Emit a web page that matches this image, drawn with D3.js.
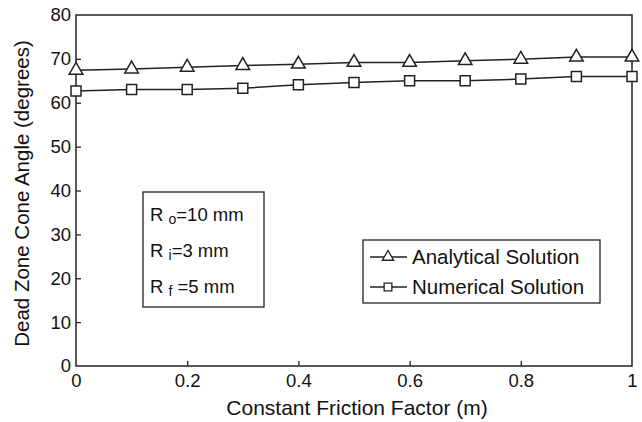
<!DOCTYPE html>
<html><head><meta charset="utf-8">
<script src="https://cdn.jsdelivr.net/npm/d3@7"></script>
<style>body{margin:0;background:#fff}svg{display:block;font-family:"Liberation Sans",Arial,sans-serif}</style>
</head><body><svg id="c" width="642" height="422"></svg>
<script>
const xValues = [0, 0.1, 0.2, 0.3, 0.4, 0.5, 0.6, 0.7, 0.8, 0.9, 1.0];
const analytical = [67.4, 67.7, 68.1, 68.5, 68.8, 69.2, 69.2, 69.6, 69.9, 70.4, 70.4];
const numerical = [62.7, 63.0, 63.0, 63.3, 64.1, 64.6, 65.0, 65.0, 65.4, 66.0, 66.0];
const xTicks = [0, 0.2, 0.4, 0.6, 0.8, 1];
const yTicks = [0, 10, 20, 30, 40, 50, 60, 70, 80];
const seriesNames = ["Analytical Solution", "Numerical Solution"];

const svg = d3.select("#c");
const L = 76, R = 632, T = 15, B = 366;
const x = d3.scaleLinear().domain([0, 1]).range([L, R]);
const y = d3.scaleLinear().domain([0, 80]).range([B, T]);
const col = "#222";

// axes
const xAxis = d3.axisBottom(x).tickValues(xTicks).tickFormat(d3.format("")).tickSizeInner(-5).tickSizeOuter(0).tickPadding(8);
const gx = svg.append("g").attr("transform", `translate(0,${B})`).call(xAxis);
const yAxis = d3.axisLeft(y).tickValues(yTicks).tickSizeInner(-5).tickSizeOuter(0).tickPadding(5);
const gy = svg.append("g").attr("transform", `translate(${L},0)`).call(yAxis);
[gx, gy].forEach(g => {
  g.select(".domain").remove();
  g.selectAll("line").attr("stroke", col).attr("stroke-width", 1.3);
  g.selectAll("text").attr("fill", "#111").style("font-size", "18.5px").style("font-family", "Liberation Sans, Arial, sans-serif");
});
gy.selectAll(".tick").filter(d => d === 0 || d === 80).select("line").remove();
gx.selectAll(".tick").filter(d => d === 0 || d === 1).select("line").remove();

svg.append("rect").attr("x", L).attr("y", T).attr("width", R - L).attr("height", B - T)
  .attr("fill", "none").attr("stroke", col).attr("stroke-width", 1.5);

// axis titles
svg.append("text").attr("x", (L + R) / 2 + 3).attr("y", 415).attr("text-anchor", "middle")
  .style("font-size", "21px").attr("fill", "#111").text("Constant Friction Factor (m)");
svg.append("text").attr("transform", `translate(29,${(T + B) / 2 + 3}) rotate(-90)`).attr("text-anchor", "middle")
  .style("font-size", "20.5px").attr("fill", "#111").text("Dead Zone Cone Angle (degrees)");

// series
const line = d3.line().x((d, i) => x(xValues[i])).y(d => y(d));
const tri = d3.symbol().type(d3.symbolTriangle).size(80);
const sq = d3.symbol().type(d3.symbolSquare).size(100);
[[analytical, tri], [numerical, sq]].forEach(([data, sym]) => {
  svg.append("path").datum(data).attr("d", line).attr("fill", "none").attr("stroke", col).attr("stroke-width", 1.5);
  svg.selectAll(null).data(data).enter().append("path")
    .attr("d", sym).attr("transform", (d, i) => `translate(${x(xValues[i])},${y(d)})`)
    .attr("fill", "#fff").attr("stroke", col).attr("stroke-width", 1.5);
});

// params box
svg.append("rect").attr("x", 143).attr("y", 192).attr("width", 121).attr("height", 115)
  .attr("fill", "#fff").attr("stroke", col).attr("stroke-width", 1.3);
const params = [["o", "=10 mm"], ["i", "=3 mm"], ["f", " =5 mm"]];
params.forEach((p, i) => {
  const t = svg.append("text").attr("x", 150).attr("y", 221 + i * 36).style("font-size", "18.5px").attr("fill", "#111");
  t.append("tspan").text("R ");
  t.append("tspan").attr("dy", 3).style("font-size", "14px").text(p[0]);
  t.append("tspan").attr("dy", -3).text(p[1]);
});

// legend
svg.append("rect").attr("x", 363).attr("y", 240).attr("width", 237).attr("height", 63)
  .attr("fill", "#fff").attr("stroke", col).attr("stroke-width", 1.3);
[257, 287].forEach((yy, i) => {
  svg.append("line").attr("x1", 370).attr("x2", 407).attr("y1", yy).attr("y2", yy).attr("stroke", col).attr("stroke-width", 1.3);
  svg.append("path").attr("d", d3.symbol().type(i === 0 ? d3.symbolTriangle : d3.symbolSquare).size(i === 0 ? 55 : 60))
    .attr("transform", `translate(388,${yy})`).attr("fill", "#fff").attr("stroke", col).attr("stroke-width", 1.3);
  svg.append("text").attr("x", 412).attr("y", yy + 7).style("font-size", "20.5px").attr("fill", "#111").text(seriesNames[i]);
});
</script></body></html>
